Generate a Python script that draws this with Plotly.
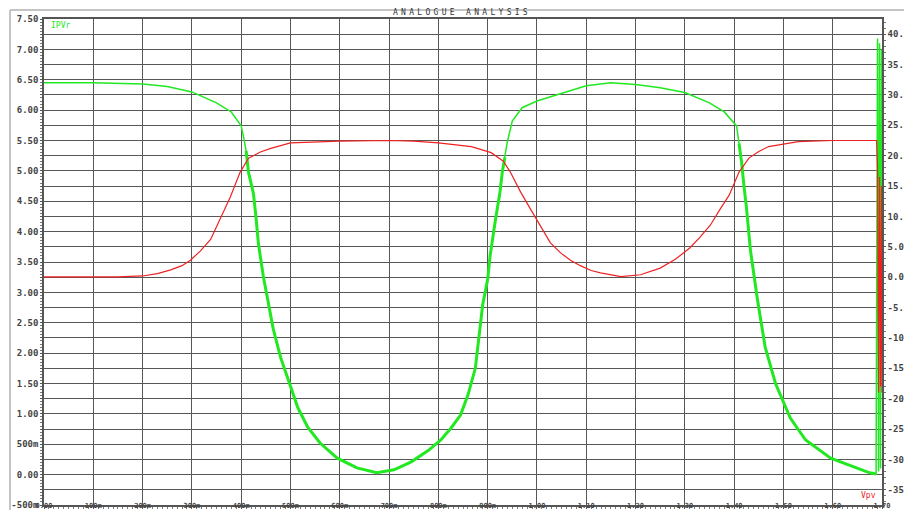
import plotly.graph_objects as go

# PV current (left axis, A) sampled over time (s)
t_ipv = [0.0, 0.10, 0.20, 0.25, 0.30, 0.35, 0.38, 0.40, 0.405, 0.41, 0.415, 0.42,
         0.425, 0.43, 0.435, 0.445, 0.455, 0.465, 0.48, 0.50, 0.515, 0.535, 0.56,
         0.595, 0.635, 0.675, 0.71, 0.745, 0.78, 0.805, 0.825, 0.845, 0.86, 0.875,
         0.89, 0.90, 0.905, 0.915, 0.925, 0.93, 0.935, 0.94, 0.95, 0.97, 1.00, 1.05,
         1.10, 1.15, 1.20, 1.25, 1.30, 1.35, 1.38, 1.405, 1.41, 1.415, 1.42, 1.425,
         1.433, 1.447, 1.463, 1.484, 1.514, 1.545, 1.596, 1.646, 1.675, 1.688,
         1.691, 1.693, 1.695, 1.697, 1.699, 1.70]
ipv = [6.45, 6.45, 6.43, 6.39, 6.30, 6.12, 5.97, 5.74, 5.55, 5.33, 4.97, 4.80,
       4.62, 4.24, 3.80, 3.26, 2.85, 2.40, 1.93, 1.44, 1.10, 0.78, 0.52,
       0.27, 0.11, 0.03, 0.08, 0.21, 0.40, 0.57, 0.76, 0.98, 1.31, 1.75,
       2.80, 3.21, 3.60, 4.15, 4.65, 5.00, 5.22, 5.48, 5.82, 6.04, 6.15, 6.28,
       6.40, 6.45, 6.42, 6.37, 6.29, 6.12, 5.97, 5.74, 5.45, 5.15, 4.75, 4.40,
       3.70, 2.90, 2.10, 1.50, 0.93, 0.57, 0.27, 0.11, 0.03, 0.01,
       7.18, 0.05, 7.10, 0.10, 7.00, 6.50]

# PV voltage (right axis, V)
t_vpv = [0.0, 0.15, 0.20, 0.23, 0.257, 0.28, 0.297, 0.317, 0.338, 0.358, 0.378,
         0.398, 0.415, 0.439, 0.46, 0.50, 0.55, 0.60, 0.70, 0.75, 0.80, 0.84,
         0.867, 0.907, 0.932, 0.946, 0.967, 0.987, 1.007, 1.027, 1.048, 1.068,
         1.088, 1.11, 1.129, 1.17, 1.21, 1.25, 1.28, 1.31, 1.33, 1.352, 1.37,
         1.39, 1.41, 1.43, 1.45, 1.47, 1.53, 1.60, 1.689,
         1.691, 1.693, 1.695, 1.697, 1.699, 1.70]
vpv = [0.05, 0.05, 0.2, 0.6, 1.2, 1.9, 2.8, 4.3, 6.2, 9.8, 13.2,
       17.3, 19.6, 20.6, 21.2, 22.1, 22.3, 22.4, 22.5, 22.4, 22.1, 21.8,
       21.5, 20.5, 19.1, 17.3, 14.0, 11.2, 8.4, 5.7, 4.0, 2.8,
       1.9, 1.1, 0.7, 0.1, 0.4, 1.5, 2.9, 4.8, 6.5, 8.6, 11.0,
       13.5, 17.3, 19.6, 20.7, 21.5, 22.3, 22.5, 22.5,
       18.0, -19.0, 16.5, -18.0, 15.0, -19.0]

# Axis ticks
x_tick_vals = [0.0, 0.1, 0.2, 0.3, 0.4, 0.5, 0.6, 0.7, 0.8, 0.9,
               1.0, 1.1, 1.2, 1.3, 1.4, 1.5, 1.6, 1.7]
x_tick_text = ["0.00", "100m", "200m", "300m", "400m", "500m", "600m", "700m",
               "800m", "900m", "1.00", "1.10", "1.20", "1.30", "1.40", "1.50",
               "1.60", "1.70"]
y_tick_vals = [-0.5, -0.25, 0.0, 0.25, 0.5, 0.75, 1.0, 1.25, 1.5, 1.75, 2.0, 2.25,
               2.5, 2.75, 3.0, 3.25, 3.5, 3.75, 4.0, 4.25, 4.5, 4.75, 5.0, 5.25,
               5.5, 5.75, 6.0, 6.25, 6.5, 6.75, 7.0, 7.25, 7.5]
y_tick_text = ["-500m", "", "0.00", "", "500m", "", "1.00", "", "1.50", "", "2.00", "",
               "2.50", "", "3.00", "", "3.50", "", "4.00", "", "4.50", "", "5.00", "",
               "5.50", "", "6.00", "", "6.50", "", "7.00", "", "7.50"]
y2_tick_vals = [-35, -30, -25, -20, -15, -10, -5, 0, 5, 10, 15, 20, 25, 30, 35, 40]
y2_tick_text = ["-35.0", "-30.0", "-25.0", "-20.0", "-15.0", "-10.0", "-5.00", "0.00",
                "5.00", "10.0", "15.0", "20.0", "25.0", "30.0", "35.0", "40.0"]

GRID = "#575757"
AXIS = "#555555"
TICKFONT = dict(family="DejaVu Sans Mono", size=9, color="#444444", weight="bold")
XTICKFONT = dict(family="DejaVu Sans Mono", size=7, color="#444444", weight="bold")
GREEN = "#22e822"
RED = "#ee2222"

fig = go.Figure()

fig.add_trace(go.Scatter(x=t_vpv, y=vpv, mode="lines", yaxis="y2",
                         line=dict(color=RED, width=1.2), hoverinfo="skip"))
fig.add_trace(go.Scatter(x=t_ipv, y=ipv, mode="lines",
                         line=dict(color=GREEN, width=1.5), hoverinfo="skip"))

# The ripple-heavy stretches of the current trace are drawn heavier
for lo, hi in [(0.41, 0.935), (1.41, 1.688)]:
    xs = [t for t in t_ipv if lo <= t <= hi]
    ys = [v for t, v in zip(t_ipv, ipv) if lo <= t <= hi]
    fig.add_trace(go.Scatter(x=xs, y=ys, mode="lines",
                             line=dict(color=GREEN, width=3), hoverinfo="skip"))

fig.update_layout(
    width=904, height=510, autosize=False,
    margin=dict(l=44, r=22, t=19, b=5, pad=0, autoexpand=False),
    paper_bgcolor="white", plot_bgcolor="white",
    showlegend=False,
    xaxis=dict(range=[0, 1.7], tickmode="array", tickvals=x_tick_vals,
               ticktext=x_tick_text, showgrid=True, gridcolor=GRID, gridwidth=1.4,
               zeroline=False, showline=True, linecolor=AXIS, linewidth=1.5,
               mirror=True, ticks="outside", ticklen=2, tickcolor=AXIS,
               ticklabelstandoff=-9, tickfont=XTICKFONT, automargin=False,
               ticklabeloverflow="allow",
               minor=dict(tickmode="linear", tick0=0, dtick=0.01, ticks="outside",
                          ticklen=2, tickcolor="#777777", showgrid=False)),
    yaxis=dict(range=[-0.5, 7.5], tickmode="array", tickvals=y_tick_vals,
               ticktext=y_tick_text, showgrid=True, gridcolor=GRID, gridwidth=1.4,
               zeroline=False, showline=True, linecolor=AXIS, linewidth=1.5,
               mirror=True, ticks="outside", ticklen=2, tickcolor=AXIS,
               tickfont=TICKFONT, automargin=False, ticklabeloverflow="allow",
               minor=dict(tickmode="linear", tick0=0, dtick=0.05, ticks="outside",
                          ticklen=2, tickcolor="#777777", showgrid=False)),
    yaxis2=dict(range=[-37.5, 42.5], overlaying="y", side="right",
                tickmode="array", tickvals=y2_tick_vals, ticktext=y2_tick_text,
                showgrid=False, zeroline=False, showline=True, linecolor=AXIS,
                linewidth=1.5, ticks="outside", ticklen=2, tickcolor=AXIS,
                tickfont=TICKFONT, automargin=False, ticklabeloverflow="allow",
                minor=dict(tickmode="linear", tick0=0, dtick=1, ticks="outside",
                           ticklen=2, tickcolor="#777777", showgrid=False)),
    shapes=[
        # light outer frame of the graph window
        dict(type="line", xref="paper", yref="paper", x0=-0.0406, x1=1.1,
             y0=1.0185, y1=1.0185, line=dict(color="#c4c4c4", width=2)),
        dict(type="line", xref="paper", yref="paper", x0=-0.0406, x1=-0.0406,
             y0=-0.02, y1=1.0185, line=dict(color="#c4c4c4", width=2)),
    ],
    annotations=[
        dict(text='<span style="letter-spacing:3.3px">ANALOGUE ANALYSIS</span>',
             xref="paper", yref="paper", x=0.499, y=1.0,
             xanchor="center", yanchor="bottom", yshift=0, showarrow=False,
             font=dict(family="DejaVu Sans Mono", size=8, color="#333333")),
        dict(text="IPVr", xref="paper", yref="paper", x=0.006, y=1.0,
             xanchor="left", yanchor="top", showarrow=False,
             font=dict(family="DejaVu Sans Mono", size=8, color=GREEN)),
        dict(text="Vpv", xref="paper", yref="paper", x=0.995, y=0.0,
             xanchor="right", yanchor="bottom", yshift=3, showarrow=False,
             font=dict(family="DejaVu Sans Mono", size=8, color=RED)),
    ],
)

fig.write_html("out.html")
